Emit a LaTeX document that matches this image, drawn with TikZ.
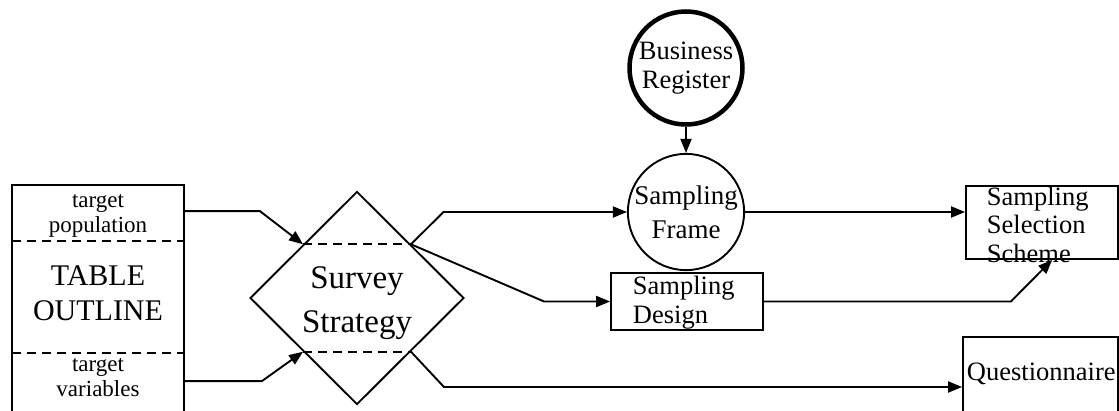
\documentclass[tikz,border=0pt]{standalone}
\usepackage{fontspec}
\setmainfont{Liberation Serif}
\usetikzlibrary{shapes.geometric,arrows.meta,calc}
\begin{document}
\begin{tikzpicture}[x=1pt,y=-1pt,
  line width=1.9pt,
  arr/.style={-{Triangle[length=14pt,width=11pt]}},
  box/.style={draw,rectangle,inner sep=0pt,line width=1.8pt},
  dsh/.style={dash pattern=on 9pt off 6pt,line width=1.8pt},
  smalltxt/.style={font=\fontsize{23}{24.5}\selectfont,align=center,inner sep=0pt},
  bigtxt/.style={font=\fontsize{30}{35}\selectfont,align=center,inner sep=0pt},
  hugetxt/.style={font=\fontsize{33}{44}\selectfont,align=center,inner sep=0pt},
  midtxt/.style={font=\fontsize{26.5}{28.5}\selectfont,inner sep=0pt},
]
\useasboundingbox (0,0) rectangle (1119,410);

% left table outline box (open at bottom)
\node[box,minimum width=172pt,minimum height=275pt] (LB) at (98,322.5) {};
\draw[dsh] (12,241) -- (184,241);
\draw[dsh] (12,353) -- (184,353);
\node[smalltxt,anchor=base] (tp) at (98,232) {target\\population};
\node[bigtxt,anchor=base] (to) at (98,320) {TABLE\\OUTLINE};
\node[smalltxt,anchor=base] (tv) at (98,396) {target\\variables};

% survey strategy diamond
\node[diamond,draw,minimum width=214pt,minimum height=213pt,inner sep=0pt] (SS) at (357,298) {};
\node[hugetxt,anchor=base] (sst) at (357,332) {Survey\\Strategy};
\coordinate (dtl) at ($(SS.north)!0.5!(SS.west)$);
\coordinate (dtr) at ($(SS.north)!0.5!(SS.east)$);
\coordinate (dbl) at ($(SS.south)!0.5!(SS.west)$);
\coordinate (dbr) at ($(SS.south)!0.5!(SS.east)$);
\draw[dsh] (dtl) -- (dtr);
\draw[dsh] (dbl) -- (dbr);

% circles
\node[circle,draw,line width=4.5pt,minimum size=113pt,inner sep=0pt,midtxt,align=center] (BR) at (686,68) {Business\\Register};
\node[circle,draw,minimum size=110pt,inner sep=0pt,font=\fontsize{27}{34}\selectfont,align=center] (SF) at (686,212) {Sampling\\Frame};

% boxes
\node[box,minimum width=152pt,minimum height=57pt] (SD) at (687,301.5) {};
\node[midtxt,anchor=base west,align=left] (sdt) at (632,323) {Sampling\\Design};
\node[box,minimum width=152pt,minimum height=73pt] (SSS) at (1042,222.5) {};
\node[midtxt,anchor=base west,align=left] (ssst) at (986,262) {Sampling\\Selection\\Scheme};
\node[box,minimum width=155pt,minimum height=100pt] (Q) at (1040.5,387) {};
\node[midtxt,anchor=base west] (qt) at (966,380) {Questionnaire};

% connectors
\draw[arr] ($(LB.north east)+(0,27)$) -- ++(75,0) -- (dtl);
\draw[arr] ($(LB.north east)+(0,197)$) -- ++(77,0) -- (dbl);
\draw[arr] (dtr) -- ($(SF.west -| dtr)+(32.5,0)$) -- (SF.west);
\draw[arr] (dtr) -- ($(SD.west)+(-66,0)$) -- (SD.west);
\draw[arr] (dbr) -- ($(Q.west -| dbr)+(33,0)$) -- (Q.west);
\draw[arr] (BR.south) -- (SF.north);
\draw[arr] (SF.east) -- (SF.east -| SSS.west);
\draw[arr] (SD.east) -- ($(SD.east)+(247,0)$) -- ($(SSS.south west)+(87,0)$);
\end{tikzpicture}
\end{document}
